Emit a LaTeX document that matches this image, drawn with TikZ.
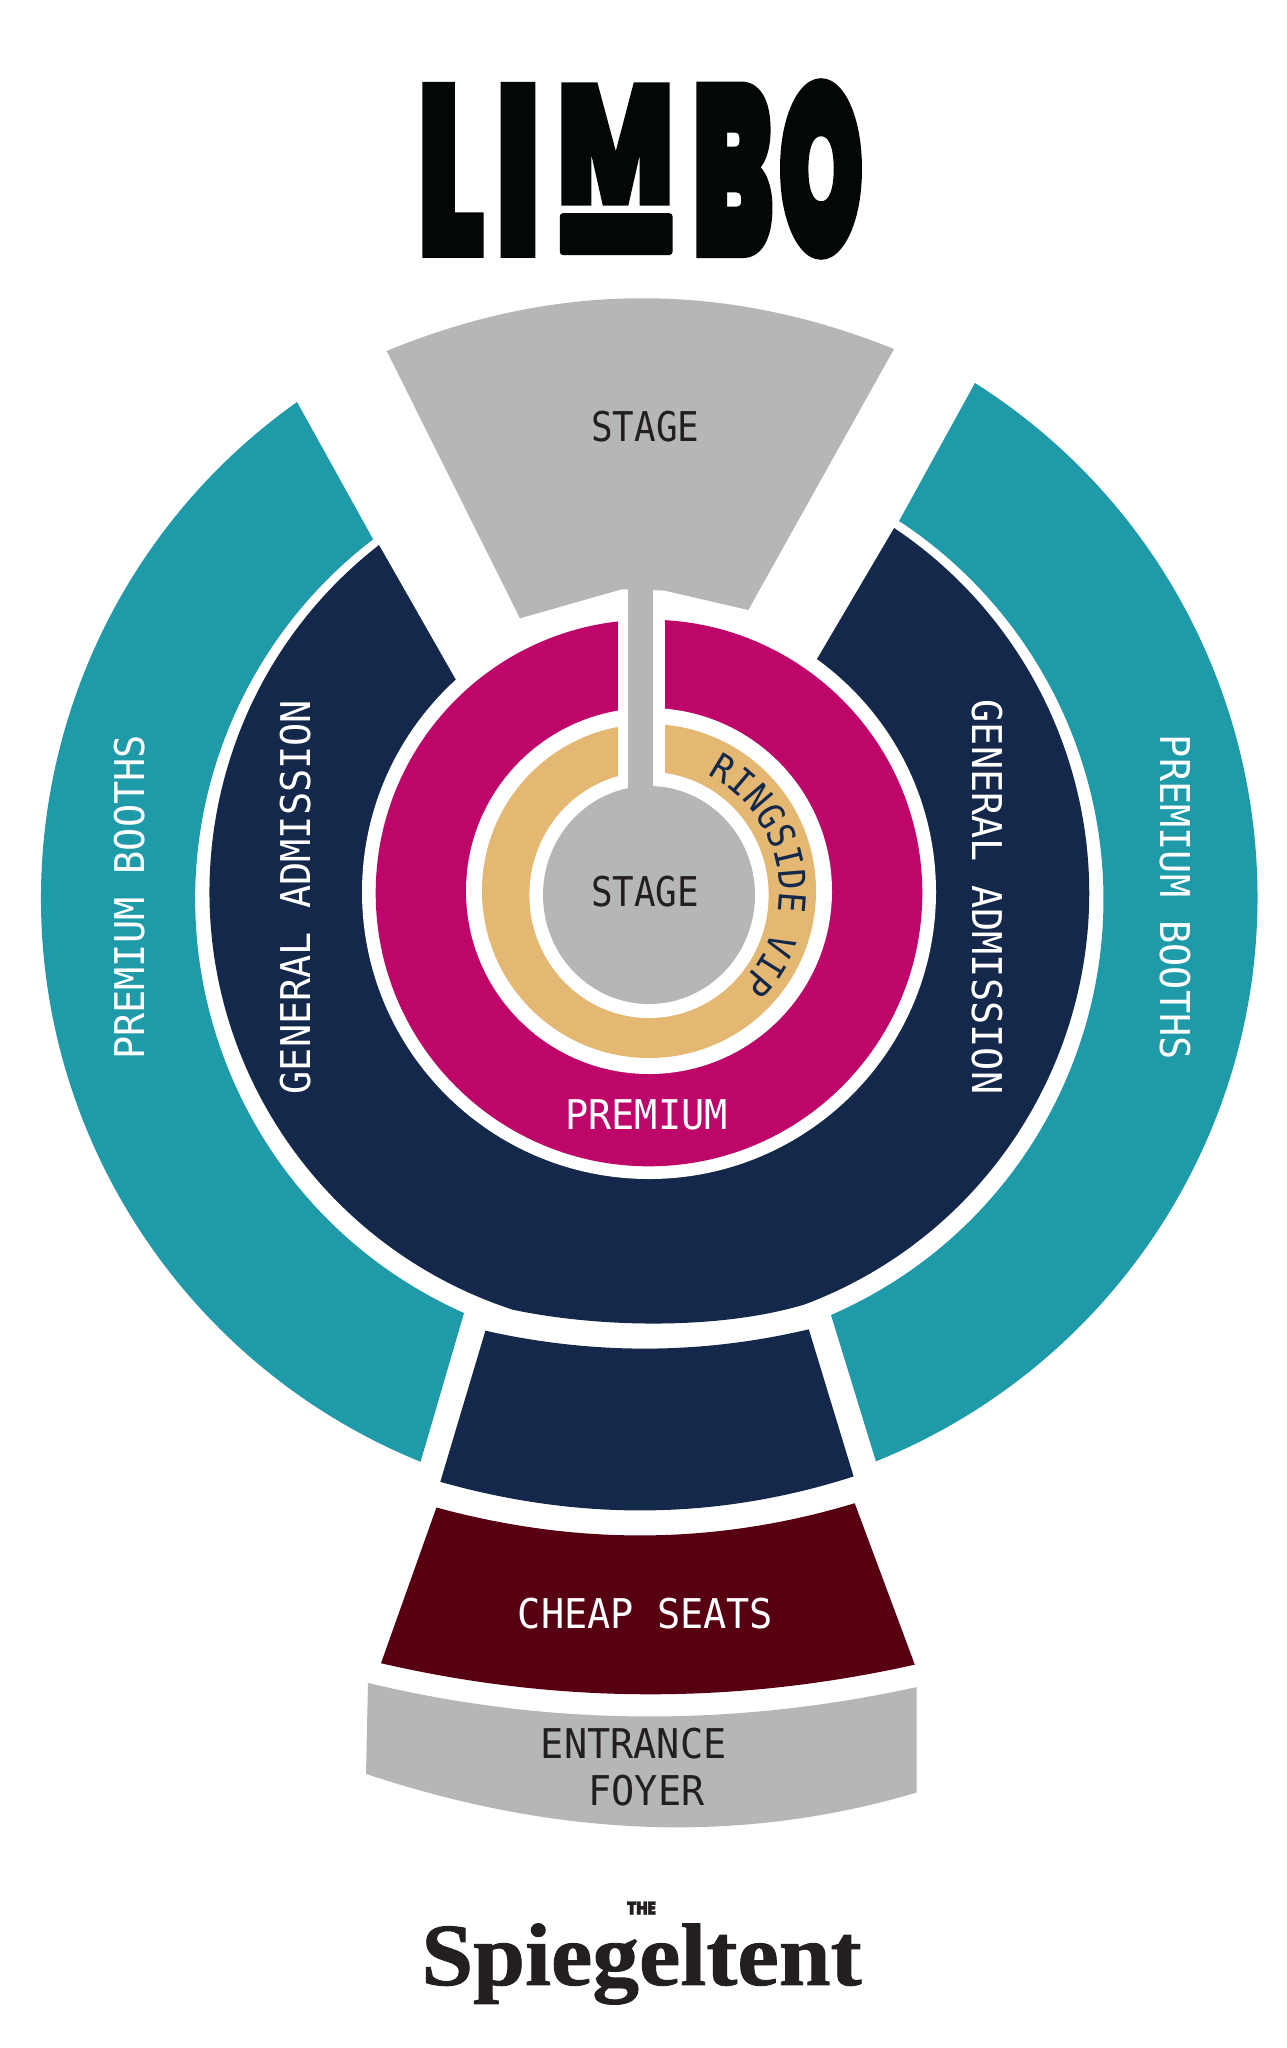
\documentclass[tikz,border=0pt]{standalone}
\usepackage{fontspec}
\usepackage{graphicx}
\usepackage{xcolor}
\usetikzlibrary{decorations.text}

\newfontfamily\zonefont[FakeStretch=0.94]{DejaVu Sans Mono}
\newfontfamily\stagefont[FakeStretch=0.875]{DejaVu Sans Mono}
\newfontfamily\ringfont[FakeStretch=0.92]{DejaVu Sans Mono}
\newfontfamily\logofont[FakeBold=2]{Poppins Black}
\newfontfamily\logoheavy[FakeBold=4]{Poppins Black}
\newfontfamily\tentfont[FakeBold=1]{Liberation Serif}

\definecolor{boothteal}{HTML}{1E9AA9}
\definecolor{gennavy}{HTML}{14284B}
\definecolor{premmagenta}{HTML}{BE056A}
\definecolor{ringgold}{HTML}{E4B873}
\definecolor{stagegrey}{HTML}{B5B6B8}
\definecolor{cheapmaroon}{HTML}{570012}
\definecolor{labeldark}{HTML}{231F20}
\definecolor{logoblack}{HTML}{030708}

\tikzset{
    zonelabel/.style={font=\zonefont\fontsize{41pt}{45pt}\selectfont, inner sep=0pt},
    darklabel/.style={zonelabel, text=labeldark},
    lightlabel/.style={zonelabel, text=white},
    stagelabel/.style={darklabel, font=\stagefont\fontsize{41pt}{45pt}\selectfont},
    logoletter/.style={inner sep=0pt, text=logoblack},
}

\begin{document}
\begin{tikzpicture}[x=1pt, y=-1pt]
    \fill[white] (0,0) rectangle (1287,2048);
    \useasboundingbox (0,0) rectangle (1287,2048);

    % logo
    \node (logoL) [logoletter] at (451,169.8) {\resizebox*{68pt}{171pt}{\logofont L}};
    \node (logoI) [logoletter] at (518,169.8) {\resizebox*{46pt}{171pt}{\logofont I}};
    \node (logoM) [logoletter] at (615.5,144) {\resizebox*{118pt}{120pt}{\logofont M}};
    \fill[logoblack, rounded corners=3pt] (559.8,213.2) rectangle (672.5,255);
    \node (logoB) [logoletter] at (733,169.8) {\resizebox*{80pt}{167pt}{\logoheavy B}};
    \node (logoO) [logoletter] at (821,169) {\resizebox*{84pt}{172pt}{\logoheavy O}};

    % booths
    \fill[boothteal] (297,402) arc[start angle=125.4, end angle=247.9, radius=608.5pt]
        -- (464,1313) arc[start angle=246, end angle=127.4, radius=453pt] -- cycle;
    \fill[boothteal] (975,383) arc[start angle=57.6, end angle=-68.1, radius=608.5pt]
        -- (831,1315) arc[start angle=-66.5, end angle=56.7, radius=453pt] -- cycle;

    % general admission
    \fill[gennavy] (379,545) arc[start angle=127.9, end angle=252, radius=439.5pt]
        .. controls (600,1328) and (720,1330) .. (805,1304.3)
        arc[start angle=-69.3, end angle=56.2, radius=439.5pt]
        -- (817,659) -- (649,892) -- (456,680) -- cycle;
    \fill[gennavy] (485.4,1330.7) .. controls (593,1354.8) and (701,1354.8) .. (808.8,1329.3)
        -- (853.6,1476.4) .. controls (716,1520.8) and (578,1520.8) .. (440.3,1481.8) -- cycle;

    % rings
    \fill[white] (649,892) circle[radius=287pt];
    \fill[premmagenta] (649,893) circle[radius=273.3pt];
    \fill[white] (649,891) circle[radius=183pt];
    \fill[ringgold] (649,891) circle[radius=167pt];
    \fill[white] (649,895) ellipse[x radius=119.6pt, y radius=123pt];
    \fill[white] (618.2,600) rectangle (664.5,790);

    % stage
    \fill[stagegrey] (386.7,351) .. controls (556,281) and (725,281) .. (894,349)
        -- (748.3,610) -- (665,590.7) -- (652.9,590) -- (652.9,800) -- (628.2,800)
        -- (628.2,589.3) -- (621.7,589.3) -- (520,618.3) -- cycle;
    \fill[stagegrey] (649,895) ellipse[x radius=106pt, y radius=109pt];

    % cheap seats and foyer
    \fill[cheapmaroon] (436.4,1507.5) .. controls (576,1545.4) and (715,1545.4) .. (854.7,1503.2)
        -- (914.8,1664.6) .. controls (737,1704.4) and (559,1704.4) .. (381,1663.2) -- cycle;
    \fill[stagegrey] (368,1682.9) .. controls (551,1726.9) and (734,1726.9) .. (916.7,1687.1)
        -- (916.7,1792.5) .. controls (733,1847) and (550,1835) .. (366,1773.9) -- cycle;

    % labels
    \node (stagetop) [stagelabel] at (645.3,427) {STAGE};
    \node (stagemid) [stagelabel] at (645,891.6) {STAGE};
    \node (premium) [lightlabel] at (646.5,1115) {PREMIUM};
    \node (genleft) [lightlabel, rotate=90] at (296,897) {GENERAL ADMISSION};
    \node (genright) [lightlabel, rotate=-90] at (987.8,897) {GENERAL ADMISSION};
    \node (boothleft) [lightlabel, rotate=90] at (129.7,897.4) {PREMIUM BOOTHS};
    \node (boothright) [lightlabel, rotate=-90] at (1175.3,897.4) {PREMIUM BOOTHS};
    \node (cheap) [lightlabel] at (645.5,1613.9) {CHEAP SEATS};
    \node (entrance) [darklabel] at (633.7,1743.6) {ENTRANCE};
    \node (foyer) [darklabel] at (646.5,1790.7) {FOYER};

    \path[decorate, decoration={text along path, text align=center,
        text={|\ringfont\fontsize{37pt}{40pt}\selectfont\color{gennavy}|RINGSIDE VIP}}]
        (649,891) ++(70:130pt) arc[start angle=70, end angle=-52, radius=130pt];

    % bottom logo
    \node (logothe) [inner sep=0pt, text=labeldark] at (641.5,1908)
        {\resizebox*{29pt}{13pt}{\logofont THE}};
    \node (logotent) [inner sep=0pt, text=labeldark] at (641.5,1964)
        {\resizebox*{440pt}{81pt}{\tentfont\bfseries Spiegeltent}};
\end{tikzpicture}
\end{document}
